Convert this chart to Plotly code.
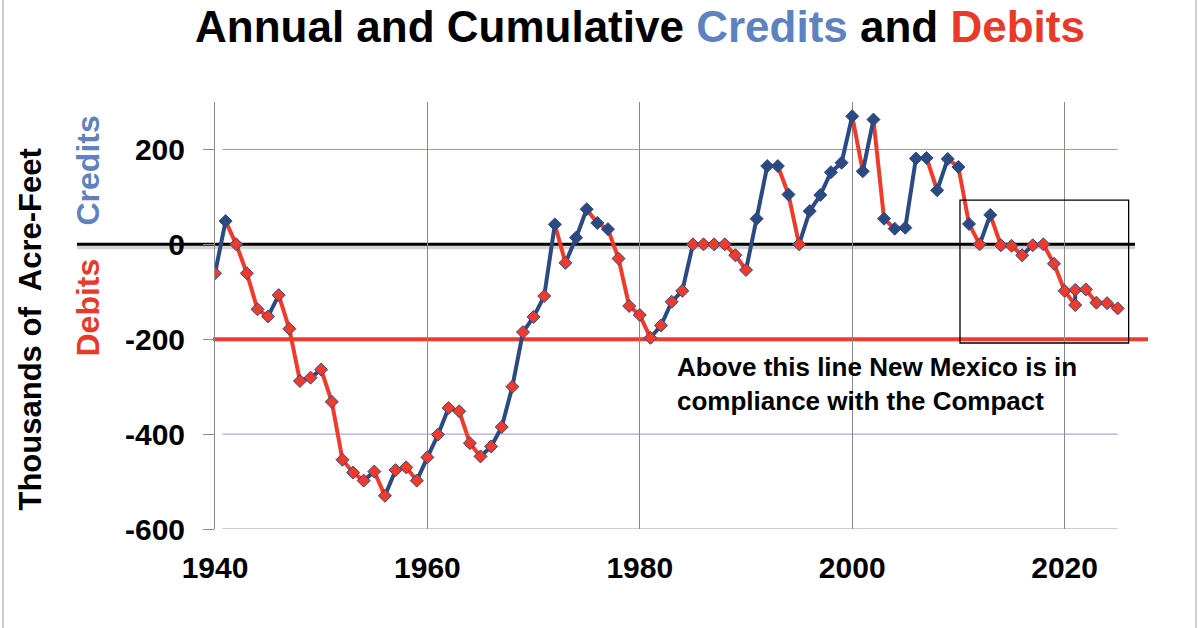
import plotly.graph_objects as go

# ---------------- data ----------------
years = [1940, 1941, 1942, 1943, 1944, 1945, 1946, 1947, 1948, 1949,
         1950, 1951, 1952, 1953, 1954, 1955, 1956, 1957, 1958, 1959,
         1960, 1961, 1962, 1963, 1964, 1965, 1966, 1967, 1968, 1969,
         1970, 1971, 1972, 1973, 1974, 1975, 1976, 1977, 1978, 1979,
         1980, 1981, 1982, 1983, 1984, 1985, 1986, 1987, 1988, 1989,
         1990, 1991, 1992, 1993, 1994, 1995, 1996, 1997, 1998, 1999,
         2000, 2001, 2002, 2003, 2004, 2005, 2006, 2007, 2008, 2009,
         2010, 2011, 2012, 2013, 2014, 2015, 2016, 2017, 2018, 2019,
         2020, 2021, 2021, 2022, 2023, 2024, 2025]
balance = [-61, 49, 0, -61, -137, -152, -107, -178, -288, -281,
           -264, -332, -454, -481, -498, -479, -530, -476, -470, -498,
           -449, -401, -345, -352, -419, -447, -426, -385, -300, -185,
           -153, -109, 42, -39, 14, 74, 45, 32, -30, -130,
           -149, -197, -171, -121, -98, 0, 0, 0, 0, -23,
           -54, 54, 165, 165, 105, 0, 70, 104, 152, 172,
           270, 154, 263, 54, 33, 35, 181, 182, 114, 180,
           163, 43, 0, 62, -2, -3, -23, -2, 0, -41,
           -98, -128, -96, -95, -123, -124, -135]

x_tickvals = [1940, 1960, 1980, 2000, 2020]
y_tickvals = [-600, -400, -200, 0, 200]
y_ticktext = ["-600", "-400", "-200", "0", "200"]
grid_levels = [200, -400, -600]
compliance_level = -200

BLUE = "#2C4A82"
RED = "#EE3B2B"
TITLE_BLUE = "#5F82BE"
TITLE_RED = "#E8392B"
FONT = "Liberation Sans, Arial, sans-serif"

# ---------------- segments coloured by rise / fall ----------------
xb, yb, xr, yr = [], [], [], []
for i in range(len(years) - 1):
    seg_x = [years[i], years[i + 1], None]
    seg_y = [balance[i], balance[i + 1], None]
    if balance[i + 1] >= balance[i]:
        xb += seg_x
        yb += seg_y
    else:
        xr += seg_x
        yr += seg_y

marker_colors = [BLUE if v > 0 else RED for v in balance]

fig = go.Figure()
fig.add_trace(go.Scatter(x=xr, y=yr, mode="lines",
                         line=dict(color=RED, width=4), hoverinfo="skip",
                         showlegend=False, connectgaps=False))
fig.add_trace(go.Scatter(x=xb, y=yb, mode="lines",
                         line=dict(color=BLUE, width=4), hoverinfo="skip",
                         showlegend=False, connectgaps=False))
fig.add_trace(go.Scatter(x=years, y=balance, mode="markers",
                         marker=dict(symbol="diamond", size=10, color=marker_colors,
                                     line=dict(color=BLUE, width=1)),
                         showlegend=False))

L, R, T, B = 215, 65, 102, 99
W, H = 1200, 628
pw, ph = W - L - R, H - T - B


def px_x(px):
    return (px - L) / pw


def px_y(py):
    return (H - B - py) / ph


shapes = []
for g in grid_levels:
    shapes.append(dict(type="line", xref="x", yref="y", x0=1940.7, x1=2025,
                       y0=g, y1=g, line=dict(color="#9A90CC", width=1), layer="below"))
# shadow + zero line
shapes.append(dict(type="line", xref="paper", yref="y", x0=px_x(77), x1=px_x(1135),
                   y0=-6, y1=-6, line=dict(color="#d4d4d4", width=4), layer="below"))
shapes.append(dict(type="line", xref="paper", yref="y", x0=px_x(77), x1=px_x(1135),
                   y0=0, y1=0, line=dict(color="black", width=3), layer="below"))
# compliance line
shapes.append(dict(type="line", xref="paper", yref="y", x0=px_x(213), x1=px_x(1148),
                   y0=compliance_level, y1=compliance_level,
                   line=dict(color=RED, width=4), layer="below"))
# highlight box
shapes.append(dict(type="rect", xref="x", yref="y", x0=2010.15, x1=2026.03,
                   y0=-208, y1=93, line=dict(color="black", width=1.3),
                   fillcolor="rgba(0,0,0,0)", layer="above"))
# frame
for bx in (3, 1196):
    shapes.append(dict(type="line", xref="paper", yref="paper", x0=px_x(bx), x1=px_x(bx),
                       y0=px_y(H), y1=px_y(0), line=dict(color="#bdbdbd", width=1.5)))

annotations = [
    dict(text=("Annual and Cumulative <span style='color:%s'>Credits</span> and "
               "<span style='color:%s'>Debits</span>") % (TITLE_BLUE, TITLE_RED),
         xref="paper", yref="paper", x=px_x(639.5), y=px_y(1), xanchor="center",
         yanchor="top", showarrow=False, borderpad=0,
         font=dict(family=FONT, size=44, color="black", weight="bold")),
    dict(text="Thousands of\u00a0 Acre-Feet", xref="paper", yref="paper",
         x=px_x(29.5), y=px_y(330), textangle=-90, showarrow=False,
         xanchor="center", yanchor="middle",
         font=dict(family=FONT, size=31, color="black", weight="bold")),
    dict(text="Credits", xref="paper", yref="paper", x=px_x(87.5), y=px_y(171),
         textangle=-90, showarrow=False, xanchor="center", yanchor="middle",
         font=dict(family=FONT, size=32, color=TITLE_BLUE, weight="bold")),
    dict(text="Debits", xref="paper", yref="paper", x=px_x(87.5), y=px_y(308),
         textangle=-90, showarrow=False, xanchor="center", yanchor="middle",
         font=dict(family=FONT, size=32, color=TITLE_RED, weight="bold")),
    dict(text="Above this line New Mexico is in<br>compliance with the Compact",
         xref="paper", yref="paper", x=px_x(675), y=px_y(384), xanchor="left",
         yanchor="middle", align="left", showarrow=False,
         font=dict(family=FONT, size=26, color="black", weight="bold")),
]

fig.update_layout(
    width=W, height=H,
    margin=dict(l=L, r=R, t=T, b=B, pad=0),
    paper_bgcolor="white", plot_bgcolor="white",
    shapes=shapes, annotations=annotations,
    xaxis=dict(range=[1940, 1940 + pw / 10.62], tickvals=x_tickvals,
               showgrid=True, gridcolor="#8a8a8a", gridwidth=1,
               zeroline=False, showline=False, ticks="",
               ticklabelstandoff=18,
               tickfont=dict(family=FONT, size=30, color="black", weight="bold")),
    yaxis=dict(range=[-600, 300], tickvals=y_tickvals, ticktext=y_ticktext,
               showgrid=False, zeroline=False, showline=True,
               linecolor="#8a8a8a", linewidth=1,
               ticks="outside", ticklen=11, tickcolor="#8a8a8a", tickwidth=1,
               ticklabelstandoff=12,
               tickfont=dict(family=FONT, size=30, color="black", weight="bold")),
)

fig.write_html("out.html")
